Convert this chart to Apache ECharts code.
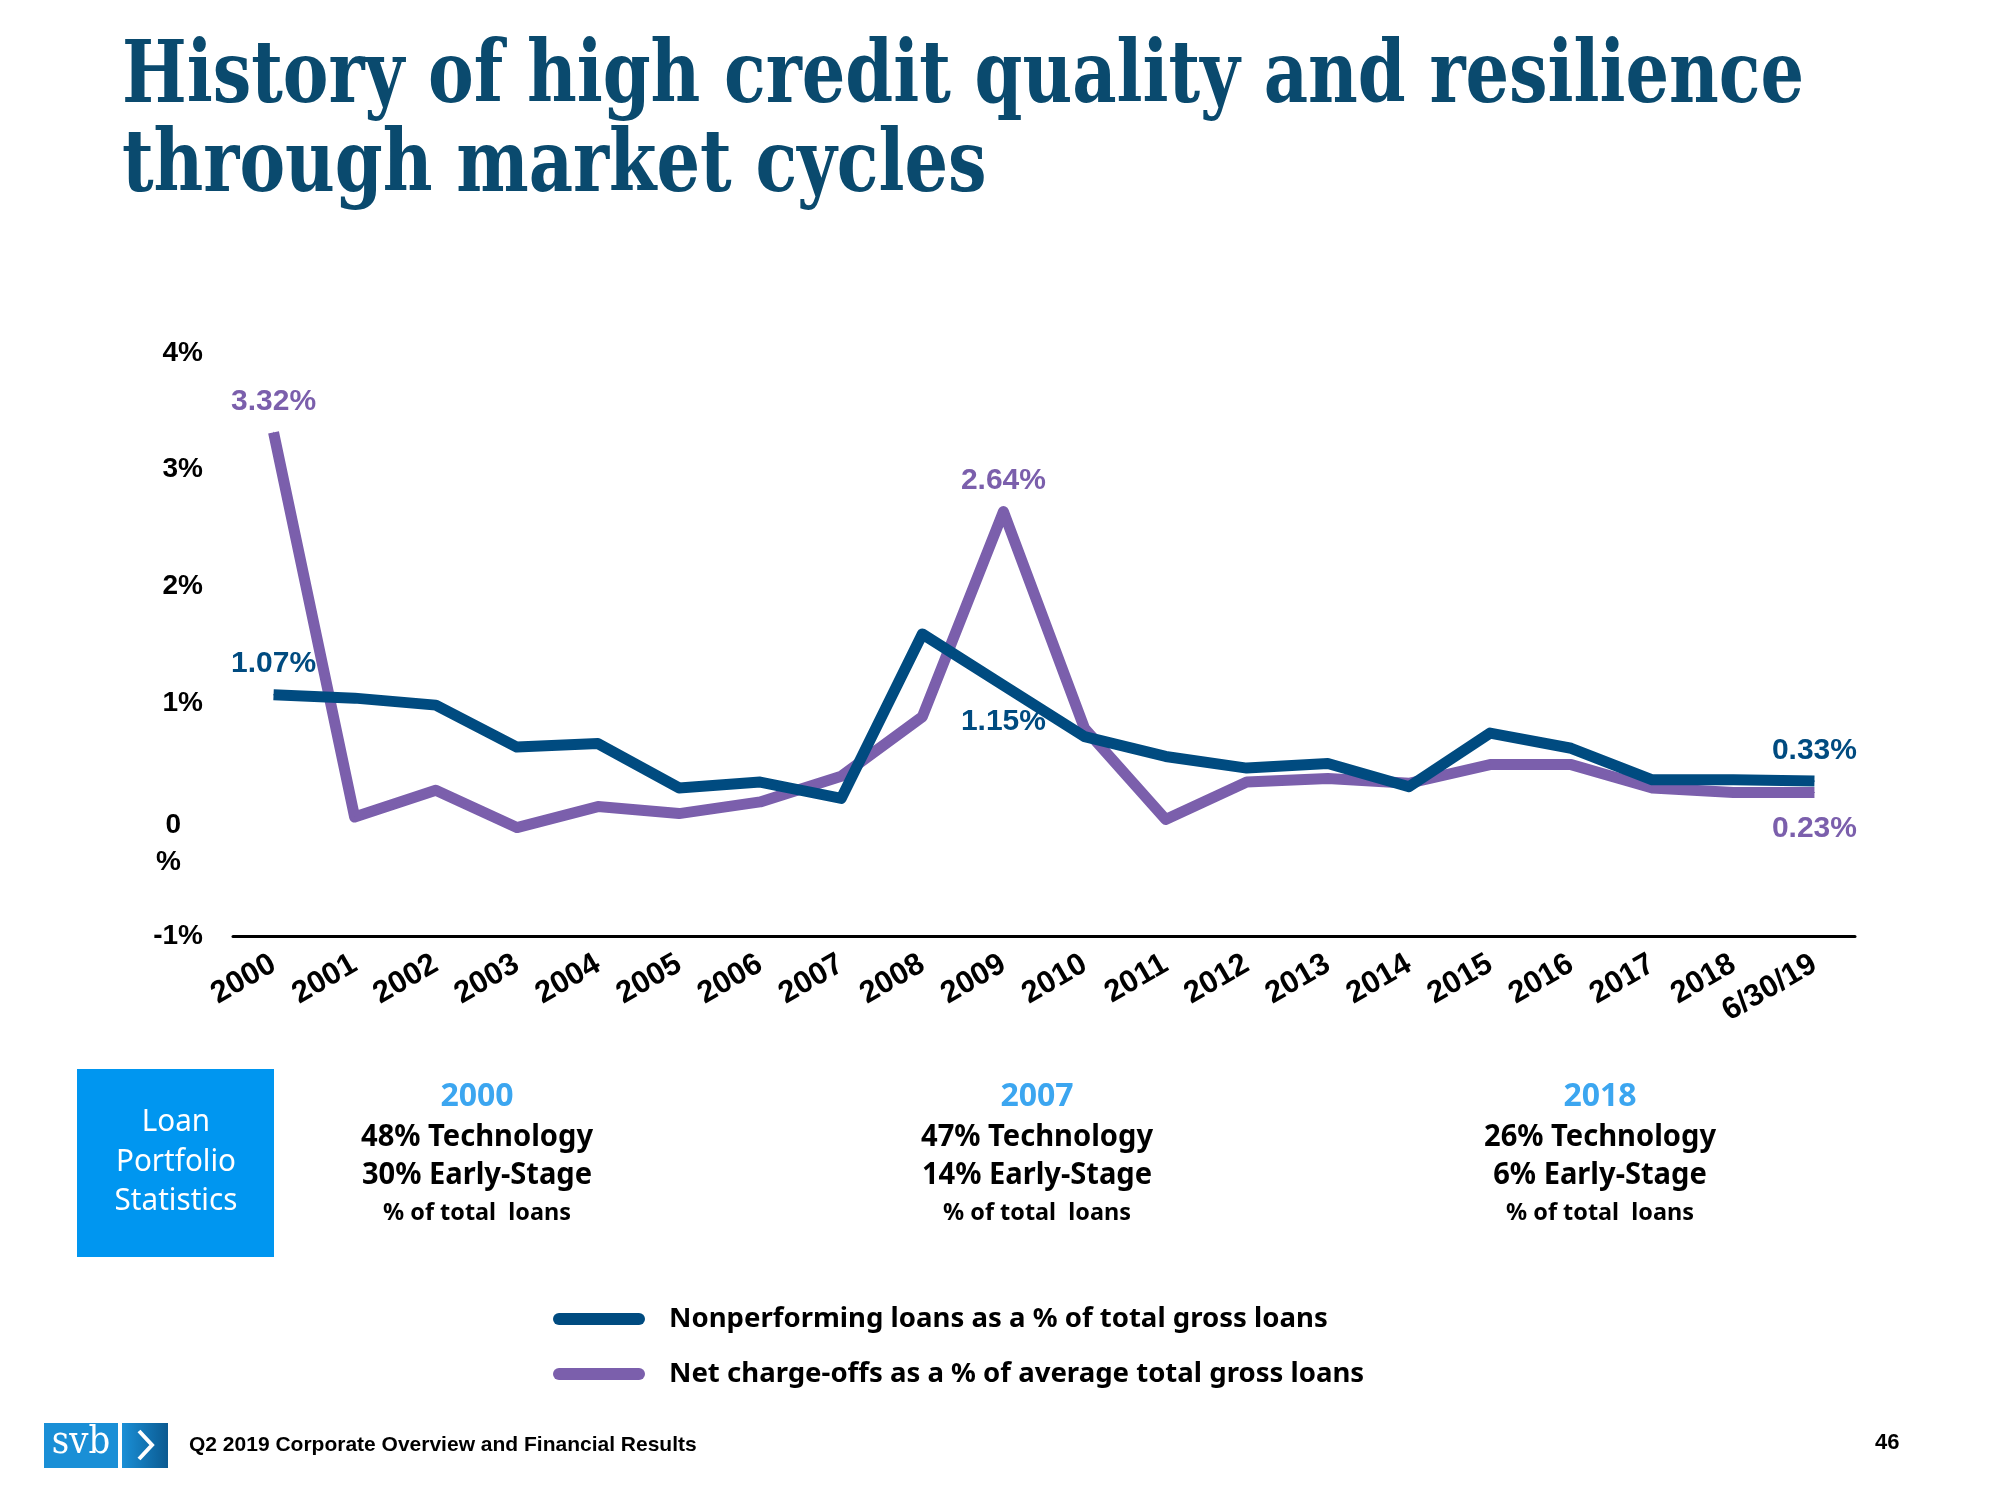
<!DOCTYPE html>
<html><head><meta charset="utf-8">
<script src="https://cdn.jsdelivr.net/npm/echarts@6/dist/echarts.min.js"></script>
<style>html,body{margin:0;padding:0;background:#fff}#c{width:2000px;height:1500px}</style>
</head><body><div id="c"></div>
<script>
// ---------- data ----------
const categories = ['2000','2001','2002','2003','2004','2005','2006','2007','2008','2009','2010','2011','2012','2013','2014','2015','2016','2017','2018','6/30/19'];
const nplValues = [1.07,1.04,0.98,0.62,0.65,0.27,0.32,0.18,1.59,1.15,0.71,0.54,0.44,0.48,0.28,0.74,0.61,0.34,0.34,0.33];
const ncoValues = [3.32,0.02,0.25,-0.07,0.11,0.05,0.15,0.37,0.88,2.64,0.78,0.00,0.32,0.35,0.31,0.47,0.47,0.27,0.23,0.23];
const nplName = 'Nonperforming loans as a % of total gross loans';
const ncoName = 'Net charge-offs as a % of average total gross loans';
const yMin = -1, yMax = 4, yStep = 1;
const titleLines = ['History of high credit quality and resilience', 'through market cycles'];
const boxLines = ['Loan', 'Portfolio', 'Statistics'];
const statYears = ['2000', '2007', '2018'];
const statTech = ['48% Technology', '47% Technology', '26% Technology'];
const statEarly = ['30% Early-Stage', '14% Early-Stage', '6% Early-Stage'];
const statNote = '% of total  loans';
const footerText = 'Q2 2019 Corporate Overview and Financial Results';
const pageNumber = '46';

// ---------- style ----------
const NPL_COLOR = '#004b80', NCO_COLOR = '#7b5fac', TITLE_COLOR = '#0a4a6e';
const LIGHT_BLUE = '#3ca6f0', BOX_BLUE = '#0096f0';
const SANS = "'Liberation Sans', Arial, sans-serif";
const HUM = "'Noto Sans', 'Open Sans', sans-serif";
const SERIF = "'DejaVu Serif Condensed', 'DejaVu Serif', serif";

const ctx = document.createElement('canvas').getContext('2d');
function measure(text, font) { ctx.font = font; return ctx.measureText(text).width; }
function ratioFor(text, weight, size, family, target) {
  return Math.min(1, target / measure(text, weight + ' ' + size + 'px ' + family));
}
function txt(text, x, y, size, weight, family, color, align, sx) {
  return { type: 'text', x: x, y: y, scaleX: sx || 1, silent: true,
    style: { text: text, fill: color, fontSize: size, fontWeight: weight, fontFamily: family,
      align: align || 'left', verticalAlign: 'middle' } };
}

const graphics = [];
// title
const tRatio = ratioFor(titleLines[0], 'bold', 86, SERIF, 1682);
graphics.push(txt(titleLines[0], 122, 80, 86, 'bold', SERIF, TITLE_COLOR, 'left', tRatio));
graphics.push(txt(titleLines[1], 122, 169, 86, 'bold', SERIF, TITLE_COLOR, 'left', tRatio));
// box
graphics.push({ type: 'rect', silent: true, shape: { x: 77, y: 1069, width: 197, height: 188 }, style: { fill: BOX_BLUE } });
const bRatio = ratioFor('Portfolio', 'normal', 30, HUM, 120);
[1122, 1162, 1201].forEach((y, i) => graphics.push(txt(boxLines[i], 176, y, 30, 'normal', HUM, '#fff', 'center', bRatio)));
// stats
const statX = [477, 1037, 1600];
const yrRatio = ratioFor('2000', 'bold', 32, HUM, 77);
const sRatio = ratioFor('48% Technology', 'bold', 30, HUM, 232);
const nRatio = ratioFor(statNote, 'bold', 24, HUM, 188);
statX.forEach((x, i) => {
  graphics.push(txt(statYears[i], x, 1097, 32, 'bold', HUM, LIGHT_BLUE, 'center', yrRatio));
  graphics.push(txt(statTech[i], x, 1137, 30, 'bold', HUM, '#000', 'center', sRatio));
  graphics.push(txt(statEarly[i], x, 1175, 30, 'bold', HUM, '#000', 'center', sRatio));
  graphics.push(txt(statNote, x, 1213, 24, 'bold', HUM, '#000', 'center', nRatio));
});
// footer logo
graphics.push({ type: 'rect', silent: true, shape: { x: 44, y: 1423, width: 74, height: 45 }, style: { fill: '#1a8fd6' } });
graphics.push({ type: 'rect', silent: true, shape: { x: 122, y: 1423, width: 46, height: 45 },
  style: { fill: new echarts.graphic.LinearGradient(0, 0, 1, 0, [{ offset: 0, color: '#1a8fd6' }, { offset: 1, color: '#0b5a91' }]) } });
graphics.push(txt('svb', 81, 1443, 40, 'normal', "'DejaVu Serif', serif", '#fff', 'center', 0.85));
graphics.push({ type: 'polyline', silent: true, shape: { points: [[139, 1431], [152, 1445], [139, 1459]] },
  style: { stroke: '#fff', lineWidth: 4, fill: null } });
const fRatio = ratioFor(footerText, 'bold', 21, SANS, 536);
graphics.push(txt(footerText, 189, 1445, 21, 'bold', SANS, '#000', 'left', fRatio));
graphics.push(txt(pageNumber, 1875, 1443, 22, 'bold', SANS, '#000', 'left'));

// legend font size fitted to the reference width
const legendFs = Math.min(28, 28 * 659 / measure(nplName, 'bold 28px ' + HUM));

function build(vals, pos) {
  return vals.map((v, i) => pos[i] ? { value: v, label: { show: true, position: pos[i], distance: pos[i] === 'top' ? 15 : 21 } } : v);
}
const lblFmt = p => Number(p.value).toFixed(2) + '%';

const chart = echarts.init(document.getElementById('c'), null, { renderer: 'canvas' });
chart.setOption({
  animation: false,
  backgroundColor: '#fff',
  grid: { left: 233, top: 353, width: 1622, height: 583 },
  xAxis: {
    type: 'category', data: categories, boundaryGap: true,
    axisLine: { show: true, onZero: false, lineStyle: { color: '#000', width: 3 } },
    axisTick: { show: false },
    axisLabel: { rotate: 30, margin: 26, interval: 0, color: '#000', fontSize: 31, fontWeight: 'bold', fontFamily: SANS }
  },
  yAxis: {
    type: 'value', min: yMin, max: yMax, interval: yStep,
    splitLine: { show: false }, axisLine: { show: false }, axisTick: { show: false },
    axisLabel: {
      margin: 30, color: '#000', fontSize: 28, fontWeight: 'bold', fontFamily: SANS, align: 'right',
      formatter: v => v === 0 ? '{sp| }\n{z|0}\n{z|%}' : v + '%',
      rich: {
        sp: { height: 48, fontSize: 10 },
        z: { fontSize: 28, fontWeight: 'bold', fontFamily: SANS, color: '#000', lineHeight: 37, padding: [0, 22, 0, 0] }
      }
    }
  },
  legend: {
    data: [nplName, ncoName], orient: 'vertical', left: 548, top: 1297,
    itemWidth: 92, itemHeight: 12, itemGap: 21, selectedMode: false,
    icon: 'path://M6,0 H86 A6,6 0 0 1 86,12 H6 A6,6 0 0 1 6,0 Z',
    textStyle: { fontSize: legendFs, fontWeight: 'bold', fontFamily: HUM, color: '#000', lineHeight: 34, padding: [0, 0, 0, 19] }
  },
  series: [
    {
      name: ncoName, type: 'line', data: build(ncoValues, { 0: 'top', 9: 'top', 19: 'bottom' }),
      symbol: 'circle', symbolSize: 1, showAllSymbol: true, color: NCO_COLOR,
      itemStyle: { color: NCO_COLOR },
      lineStyle: { width: 11, color: NCO_COLOR, join: 'round' },
      label: { show: false, formatter: lblFmt, color: NCO_COLOR, fontSize: 30, fontWeight: 'bold', fontFamily: SANS },
      emphasis: { disabled: true },
      z: 2
    },
    {
      name: nplName, type: 'line', data: build(nplValues, { 0: 'top', 9: 'bottom', 19: 'top' }),
      symbol: 'circle', symbolSize: 1, showAllSymbol: true, color: NPL_COLOR,
      itemStyle: { color: NPL_COLOR },
      lineStyle: { width: 11, color: NPL_COLOR, join: 'round' },
      label: { show: false, formatter: lblFmt, color: NPL_COLOR, fontSize: 30, fontWeight: 'bold', fontFamily: SANS },
      emphasis: { disabled: true },
      z: 3
    }
  ],
  graphic: graphics
});
</script>
</body></html>
